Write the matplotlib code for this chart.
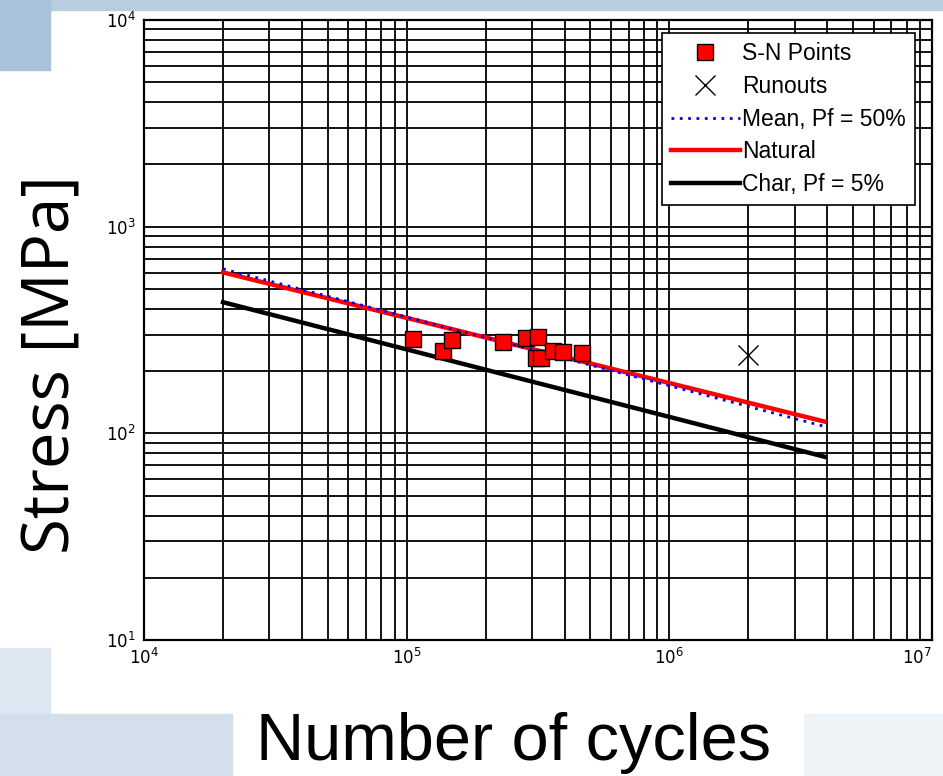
import numpy as np
import matplotlib
matplotlib.use("Agg")
import matplotlib.pyplot as plt
from matplotlib.patches import Rectangle
from matplotlib import font_manager

# S-N data
sn_cycles = [1.06e5, 1.37e5, 1.49e5, 2.33e5, 2.85e5, 3.16e5, 3.11e5, 3.24e5, 3.61e5, 3.94e5, 4.66e5]
sn_stress = [287, 251, 282, 277, 290, 293, 232, 232, 251, 248, 245]

runout_cycles = [2.0e6]
runout_stress = [240]

# curve end points (cycles, stress)
curve_cycles = [2.0e4, 3.9e6]
mean_stress = [625, 108]
natural_stress = [601, 114]
char_stress = [431, 77]


def pick(names):
    avail = set(f.name for f in font_manager.fontManager.ttflist)
    for n in names:
        if n in avail:
            return n
    return "DejaVu Sans"

narrow = pick(["Liberation Sans Narrow", "Liberation Sans"])
plt.rcParams['mathtext.fontset'] = 'custom'
plt.rcParams['mathtext.rm'] = narrow
plt.rcParams['mathtext.it'] = narrow

fig = plt.figure(figsize=(9.43, 7.76), dpi=100)
fig.patch.set_facecolor('white')

# slide background blocks
fig.patches.append(Rectangle((0, 0.987), 1, 0.013, transform=fig.transFigure, color='#b9cde1', zorder=0))
fig.patches.append(Rectangle((0, 0.91), 0.053, 0.09, transform=fig.transFigure, color='#a9c1da', zorder=0))
fig.patches.append(Rectangle((0, 0.0), 0.053, 0.165, transform=fig.transFigure, color='#dde7f1', zorder=0))
fig.patches.append(Rectangle((0, 0.0), 0.246, 0.08, transform=fig.transFigure, color='#d3e0ec', zorder=0))
fig.patches.append(Rectangle((0.853, 0.0), 0.147, 0.08, transform=fig.transFigure, color='#eef3f8', zorder=0))

ax = fig.add_axes([0.1527, 0.1753, 0.8356, 0.7989])
ax.set_xscale('log')
ax.set_yscale('log')
ax.set_xlim(1e4, 1e7)
ax.set_ylim(1e1, 1e4)

ax.grid(True, which='both', color='black', linewidth=1.3)
ax.set_axisbelow(True)
ax.tick_params(which='both', length=0, labelsize=12, pad=6)
for s in ax.spines.values():
    s.set_linewidth(1.6)

ax.plot(curve_cycles, natural_stress, color='red', lw=3.2, label='Natural', zorder=3)
ax.plot(curve_cycles, mean_stress, color='blue', lw=2, ls=(0, (1, 2)), label='Mean, Pf = 50%', zorder=4)
ax.plot(curve_cycles, char_stress, color='black', lw=3.2, label='Char, Pf = 5%', zorder=3)
ax.plot(sn_cycles, sn_stress, 's', color='red', mec='black', mew=1, ms=11, label='S-N Points', zorder=5)
ax.plot(runout_cycles, runout_stress, 'x', color='black', mew=1, ms=14, label='Runouts', zorder=5)

h, l = ax.get_legend_handles_labels()
order = [3, 4, 1, 0, 2]
leg = ax.legend([h[i] for i in order], [l[i] for i in order], loc='upper right',
                bbox_to_anchor=(0.993, 0.998), fancybox=False, framealpha=1,
                edgecolor='black', prop={'family': pick(["Liberation Sans"]), 'size': 16.5},
                handlelength=3.0, handletextpad=0.1, labelspacing=0.43, borderpad=0.4)
leg.get_frame().set_linewidth(1.2)
leg.set_zorder(10)

fig.canvas.draw()
for t in ax.xaxis.get_major_ticks():
    if abs(t.get_loc() - 1e7) < 1:
        t.label1.set_horizontalalignment('right')

fig.text(0.055, 0.53, 'Stress [MPa]', rotation=90, ha='center', va='center',
         fontsize=47, family=pick(["Open Sans", "Noto Sans"]))
fig.text(0.545, 0.042, 'Number of cycles', ha='center', va='center',
         fontsize=48, family=narrow)

fig.savefig('out.png', dpi=100)
